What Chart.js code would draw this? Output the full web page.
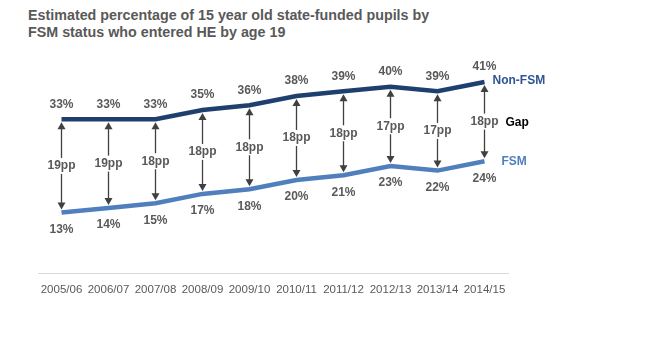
<!DOCTYPE html>
<html>
<head>
<meta charset="utf-8">
<script src="https://cdn.jsdelivr.net/npm/chart.js@4.4.0/dist/chart.umd.min.js"></script>
<style>
  body { margin: 0; background: #fff; }
  #wrap { position: relative; width: 648px; height: 362px; }
  #title {
    position: absolute; left: 28px; top: 7px;
    font: bold 14.3px "Liberation Sans", Arial, sans-serif;
    color: #595959; line-height: 17px;
  }
  canvas { position: absolute; left: 0; top: 0; }
</style>
</head>
<body>
<div id="wrap">
  <div id="title">Estimated percentage of 15 year old state-funded pupils by<br>FSM status who entered HE by age 19</div>
  <canvas id="chart" width="648" height="362"></canvas>
</div>
<script>
const years = ['2005/06', '2006/07', '2007/08', '2008/09', '2009/10', '2010/11', '2011/12', '2012/13', '2013/14', '2014/15'];
const nonFsm = [33, 33, 33, 35, 36, 38, 39, 40, 39, 41];
const fsm = [13, 14, 15, 17, 18, 20, 21, 23, 22, 24];
const gaps = [19, 19, 18, 18, 18, 18, 18, 17, 17, 18];

const NON_FSM_COLOR = '#1f3f6e';
const FSM_COLOR = '#4f7fbd';
const TEXT_GREY = '#595959';

function drawArrowHead(ctx, x, y, dir) {
    ctx.beginPath();
    ctx.moveTo(x, y);
    ctx.lineTo(x - 4, y - dir * 7);
    ctx.lineTo(x + 4, y - dir * 7);
    ctx.closePath();
    ctx.fill();
}

const annotations = {
    id: 'annotations',
    afterDatasetsDraw(chart) {
        const ctx = chart.ctx;
        const xs = chart.scales.x;
        const ys = chart.scales.y;
        ctx.save();
        ctx.font = 'bold 12px "Liberation Sans", Arial, sans-serif';
        ctx.textAlign = 'center';
        ctx.textBaseline = 'middle';

        years.forEach((yr, i) => {
            const x = xs.getPixelForValue(i);
            const yTop = ys.getPixelForValue(nonFsm[i]);
            const yBot = ys.getPixelForValue(fsm[i]);

            // gap arrow
            ctx.strokeStyle = '#404040';
            ctx.fillStyle = '#404040';
            ctx.lineWidth = 1.3;
            ctx.beginPath();
            ctx.moveTo(x, yTop + 6);
            ctx.lineTo(x, yBot - 6);
            ctx.stroke();
            drawArrowHead(ctx, x, yTop + 3, -1);
            drawArrowHead(ctx, x, yBot - 3, 1);

            // gap label
            const mid = (yTop + yBot) / 2;
            const txt = gaps[i] + 'pp';
            const w = ctx.measureText(txt).width;
            ctx.fillStyle = '#fff';
            ctx.fillRect(x - w / 2 - 2, mid - 8, w + 4, 16);
            ctx.fillStyle = TEXT_GREY;
            ctx.fillText(txt, x, mid);

            // value labels
            ctx.fillText(nonFsm[i] + '%', x, yTop - 15);
            ctx.fillText(fsm[i] + '%', x, yBot + 17);
        });

        // series labels on the right
        const last = years.length - 1;
        const xl = xs.getPixelForValue(last);
        const yTopL = ys.getPixelForValue(nonFsm[last]);
        const yBotL = ys.getPixelForValue(fsm[last]);
        ctx.textAlign = 'left';
        ctx.font = 'bold 12px "Liberation Sans", Arial, sans-serif';
        ctx.fillStyle = '#2e5594';
        ctx.fillText('Non-FSM', xl + 8, yTopL - 1);
        ctx.fillStyle = '#000';
        ctx.fillText('Gap', xl + 21, (yTopL + yBotL) / 2 + 1);
        ctx.fillStyle = FSM_COLOR;
        ctx.fillText('FSM', xl + 17, yBotL);
        ctx.restore();
    }
};

new Chart(document.getElementById('chart'), {
    type: 'line',
    data: {
        labels: years,
        datasets: [
            {
                label: 'Non-FSM',
                data: nonFsm,
                borderColor: NON_FSM_COLOR,
                borderWidth: 4.5,
                pointRadius: 0,
                tension: 0
            },
            {
                label: 'FSM',
                data: fsm,
                borderColor: FSM_COLOR,
                borderWidth: 4.5,
                pointRadius: 0,
                tension: 0
            }
        ]
    },
    options: {
        responsive: false,
        animation: false,
        layout: { padding: { left: 38, right: 140, top: 40, bottom: 55 } },
        plugins: {
            legend: { display: false },
            tooltip: { enabled: false },
            title: { display: false }
        },
        scales: {
            x: {
                offset: true,
                grid: { display: false, drawTicks: false },
                border: { color: '#d9d9d9', width: 1 },
                ticks: {
                    padding: 10,
                    color: TEXT_GREY,
                    font: { family: '"Liberation Sans", Arial, sans-serif', size: 11.5 },
                    maxRotation: 0,
                    autoSkip: false
                }
            },
            y: {
                display: false,
                min: 0,
                max: 50
            }
        }
    },
    plugins: [annotations]
});
</script>
</body>
</html>
